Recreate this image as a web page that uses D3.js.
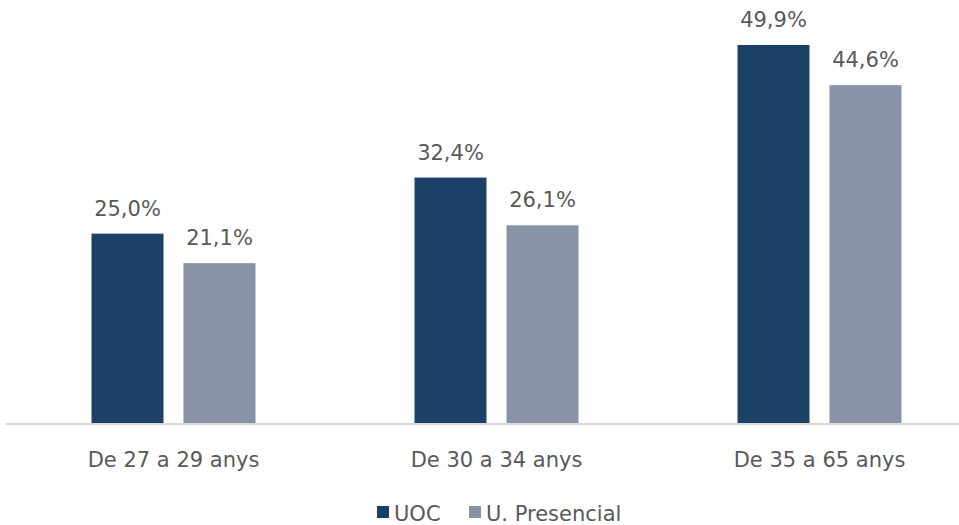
<!DOCTYPE html>
<html><head><meta charset="utf-8">
<script src="https://cdn.jsdelivr.net/npm/d3@7"></script>
<style>body{margin:0;background:#fff}svg{display:block}</style>
</head><body>
<svg id="c" width="959" height="525"></svg>
<script>
const categories = ["De 27 a 29 anys", "De 30 a 34 anys", "De 35 a 65 anys"];
const seriesNames = ["UOC", "U. Presencial"];
const uocValues = [25.0, 32.4, 49.9];
const presencialValues = [21.1, 26.1, 44.6];
const colors = ["#1c4166", "#8893a5"];

const values = [uocValues, presencialValues];
const svg = d3.select("#c");
const font = "'DejaVu Sans', sans-serif";
const textColor = "#595959";
const fs = 21;

const x0 = d3.scaleBand().domain(categories).range([12, 981]);
const groupW = 164;
const x1 = d3.scaleBand().domain(seriesNames)
  .range([(x0.bandwidth() - groupW) / 2, (x0.bandwidth() + groupW) / 2])
  .paddingInner(20 / 92).paddingOuter(0);
const y = d3.scaleLinear().domain([0, 50]).range([423, 423 - 50 * 7.575]);

// axis line
svg.append("line").attr("x1", 6).attr("x2", 959).attr("y1", y(0) + 1).attr("y2", y(0) + 1)
  .attr("stroke", "#d9d9d9").attr("stroke-width", 2);

const data = [];
categories.forEach((c, ci) => seriesNames.forEach((s, si) => data.push({c, s, si, v: values[si][ci]})));

svg.selectAll("rect.bar").data(data).join("rect").attr("class", "bar")
  .attr("x", d => x0(d.c) + x1(d.s))
  .attr("width", x1.bandwidth())
  .attr("y", d => y(d.v))
  .attr("height", d => y(0) - y(d.v))
  .attr("fill", d => colors[d.si]);

const fmt = v => v.toFixed(1).replace(".", ",") + "%";
svg.selectAll("text.val").data(data).join("text").attr("class", "val")
  .attr("x", d => x0(d.c) + x1(d.s) + x1.bandwidth() / 2)
  .attr("y", d => y(d.v) - 18)
  .attr("text-anchor", "middle")
  .attr("font-family", font).attr("font-size", fs).attr("fill", textColor)
  .text(d => fmt(d.v));

// category axis labels
const xAxis = d3.axisBottom(x0).tickSize(0).tickPadding(0);
const gx = svg.append("g").attr("transform", `translate(0,${y(0) + 44})`).call(xAxis);
gx.select(".domain").remove();
gx.selectAll("text").attr("font-family", font).attr("font-size", fs).attr("fill", textColor)
  .attr("dy", 0);

// legend
const legendX = [377, 469];
const lg = svg.append("g");
seriesNames.forEach((s, i) => {
  lg.append("rect").attr("x", legendX[i]).attr("y", 506).attr("width", 12).attr("height", 12).attr("fill", colors[i]);
  lg.append("text").attr("x", legendX[i] + 17).attr("y", 521)
    .attr("font-family", font).attr("font-size", fs).attr("fill", textColor).text(s);
});
</script>
</body></html>
